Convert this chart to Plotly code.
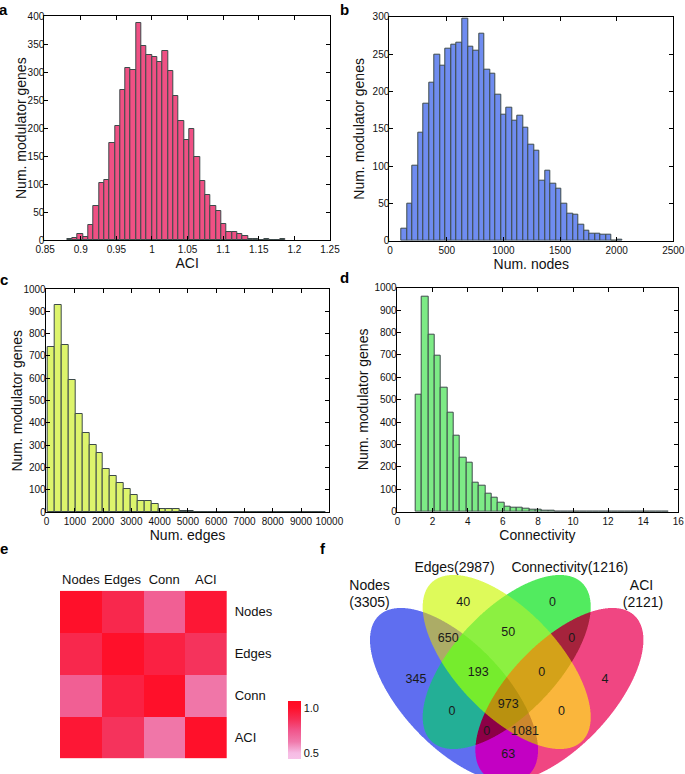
import numpy as np
import plotly.graph_objects as go

W, H = 685, 774

# ---------------- data ----------------
# a: ACI histogram
aci_bin_start = 0.8805
aci_bin_width = 0.00748
aci_counts = [1, 3, 10, 5, 27, 60, 101, 108, 173, 204, 268, 308, 304, 388, 347, 330, 327,
              318, 338, 302, 258, 212, 178, 198, 149, 106, 80, 61, 51, 29, 15, 14, 10, 8,
              2, 1, 0, 1, 0, 0, 1]
# b: number of nodes histogram
nodes_bin_start = 100
nodes_bin_width = 48.8
nodes_counts = [16, 49, 101, 144, 183, 211, 249, 234, 257, 263, 265, 297, 260, 254, 277,
                229, 223, 196, 169, 178, 161, 168, 152, 128, 121, 80, 94, 76, 70, 50,
                36, 35, 22, 14, 10, 9, 8, 8, 0, 2]
# c: number of edges histogram
edges_bin_start = 35
edges_bin_width = 246
edges_counts = [740, 928, 748, 594, 439, 355, 301, 267, 196, 164, 130, 106, 76, 52, 49,
                36, 16, 16, 14, 7, 7, 3, 3, 2, 1, 2, 3, 2, 1, 1, 2, 0, 1, 1, 0, 1, 0, 0, 0, 1]
# d: connectivity histogram
conn_bin_start = 1.04
conn_bin_width = 0.36
conn_counts = [522, 960, 790, 695, 554, 440, 339, 243, 219, 129, 116, 80, 62, 42, 21, 18,
               18, 12, 9, 7, 5, 4, 2, 2, 1, 1, 1, 0, 1, 0, 0, 0, 0, 0, 0, 0, 0, 0, 0, 1]
# e: correlation heatmap
corr_labels = ["Nodes", "Edges", "Conn", "ACI"]
corr_values = [[1.00, 0.90, 0.72, 0.97],
               [0.90, 1.00, 0.93, 0.86],
               [0.72, 0.93, 1.00, 0.64],
               [0.97, 0.86, 0.64, 1.00]]
# f: Venn diagram
set_names = ["Nodes", "Edges", "Connectivity", "ACI"]
set_sizes = [3305, 2987, 1216, 2121]
venn_regions = ["A", "B", "C", "D", "AB", "BC", "CD", "AC", "BD", "AD",
                "ABC", "BCD", "ABD", "ACD", "ABCD"]
venn_counts = [345, 40, 0, 4, 650, 50, 0, 0, 0, 63, 193, 0, 1081, 0, 973]

# ---------------- styles ----------------
FONT = "Liberation Sans, Arial, Helvetica, sans-serif"
EDGE = "#3d4a4a"
hist_colors = ["#EF5084", "#6F8CF0", "#DDF46C", "#7DEB86"]

fig = go.Figure()

hist_data = [
    (aci_counts, aci_bin_start, aci_bin_width),
    (nodes_counts, nodes_bin_start, nodes_bin_width),
    (edges_counts, edges_bin_start, edges_bin_width),
    (conn_counts, conn_bin_start, conn_bin_width),
]
for i, (counts, start, width) in enumerate(hist_data):
    sfx = "" if i == 0 else str(i + 1)
    fig.add_trace(go.Bar(
        x0=start + width / 2, dx=width, y=counts,
        marker=dict(color=hist_colors[i], line=dict(color=EDGE, width=1)),
        xaxis="x" + sfx, yaxis="y" + sfx, showlegend=False, hoverinfo="skip"))

# heatmap (colour stops given in value units, then normalised)
zlo, zhi = 0.433, 1.078
cstops = [(0.433, "rgb(247,194,232)"), (0.5, "rgb(246,188,228)"),
          (0.625, "rgb(240,122,172)"), (0.75, "rgb(241,86,140)"),
          (0.875, "rgb(246,46,86)"), (1.0, "rgb(255,16,42)"), (1.078, "rgb(255,10,34)")]
cscale = [[(v - zlo) / (zhi - zlo), c] for v, c in cstops]
fig.add_trace(go.Heatmap(
    z=corr_values, x=corr_labels, y=corr_labels, xaxis="x5", yaxis="y5",
    zmin=zlo, zmax=zhi, colorscale=cscale,
    colorbar=dict(x=288 / W, xanchor="left", y=1 - 730 / H, yanchor="middle",
                  len=58 / H, lenmode="fraction", thickness=13, outlinewidth=0,
                  xpad=0, ypad=0, tickvals=[0.5, 1.0], ticktext=["0.5", "1.0"],
                  ticks="", ticklen=0,
                  tickfont=dict(size=11, color="#111", family=FONT)),
    hoverinfo="skip"))

# Venn: rasterised ellipses with region colours
ss = 3
x_lo, x_hi, y_lo, y_hi = 345, 685, 560, 774
xs = x_lo + (np.arange((x_hi - x_lo) * ss) + 0.5) / ss
ys = y_lo + (np.arange((y_hi - y_lo) * ss) + 0.5) / ss
X, Y = np.meshgrid(xs, ys)


def inside(cx, cy, a, b, ang):
    t = np.deg2rad(ang)
    dx, dy = X - cx, Y - cy
    u = dx * np.cos(t) + dy * np.sin(t)
    v = -dx * np.sin(t) + dy * np.cos(t)
    return (u / a) ** 2 + (v / b) ** 2 <= 1.0


axis_x = 506.7
ea, eb, th = 109.3, 51.8, 46.6
mA = inside(454.0, 695.0, ea, eb, th)
mB = inside(axis_x, 662.0, ea, eb, th)
mC = inside(axis_x, 662.0, ea, eb, 180 - th)
mD = inside(2 * axis_x - 454.0, 695.0, ea, eb, 180 - th)
code = mA * 1 + mB * 2 + mC * 4 + mD * 8

region_rgb = {
    1: (95, 110, 240), 2: (222, 250, 90), 4: (82, 235, 95), 8: (240, 70, 130),
    3: (172, 172, 102), 6: (140, 240, 65), 12: (165, 35, 60), 5: (35, 175, 150),
    10: (250, 182, 60), 9: (195, 0, 195), 7: (118, 236, 45), 14: (212, 162, 25),
    11: (205, 135, 45), 13: (140, 0, 70), 15: (185, 145, 15),
}
pal = np.zeros((16, 4))
for k, (r, g, b) in region_rgb.items():
    pal[k] = (r, g, b, 1.0)
img = pal[code]
hh, ww = img.shape[0] // ss, img.shape[1] // ss
img = img.reshape(hh, ss, ww, ss, 4)
alpha = img[..., 3].mean(axis=(1, 3))
rgb = (img[..., :3] * img[..., 3:4]).sum(axis=(1, 3)) / np.maximum(
    img[..., 3].sum(axis=(1, 3)), 1e-9)[..., None]
rgba = np.concatenate([rgb, alpha[..., None] * 255], axis=-1)
rgba = np.clip(np.round(rgba), 0, 255).astype(int)

fig.add_trace(go.Image(z=rgba.tolist(), colormodel="rgba256",
                       x0=x_lo + 0.5, dx=1, y0=y_lo + 0.5, dy=1,
                       xaxis="x6", yaxis="y6", hoverinfo="skip"))

region_pos = {
    "A": (416, 680), "B": (463.3, 603.3), "C": (552.5, 603), "D": (605, 680),
    "AB": (448.3, 638.6), "BC": (508.3, 633.3), "CD": (571.7, 638.6), "AC": (452, 712),
    "BD": (561.5, 712), "AD": (508.3, 755), "ABC": (478.3, 672.8), "BCD": (541.7, 672.8),
    "ABD": (525, 731.7), "ACD": (486.7, 731.7), "ABCD": (508.3, 705),
}
fig.add_trace(go.Scatter(
    x=[region_pos[r][0] for r in venn_regions], y=[region_pos[r][1] for r in venn_regions],
    text=[str(c) for c in venn_counts], mode="text",
    textfont=dict(size=12.5, color="#1a1a1a", family=FONT),
    xaxis="x6", yaxis="y6", showlegend=False, hoverinfo="skip"))

set_label_pos = [[(369.5, 586.7), (369.5, 603.3)], [(454.5, 568.3)],
                 [(569.8, 568.3)], [(641.5, 586.7), (643, 603.3)]]
lab_x, lab_y, lab_t = [], [], []
for name, size, pos in zip(set_names, set_sizes, set_label_pos):
    if len(pos) == 2:
        texts = [name, "(%d)" % size]
    else:
        texts = ["%s(%d)" % (name, size)]
    for (px, py), t in zip(pos, texts):
        lab_x.append(px); lab_y.append(py); lab_t.append(t)
fig.add_trace(go.Scatter(
    x=lab_x, y=lab_y, text=lab_t, mode="text",
    textfont=dict(size=14, color="#111", family=FONT),
    xaxis="x6", yaxis="y6", showlegend=False, hoverinfo="skip"))

# ---------------- layout ----------------
def hax(domain, rng, dtick, title, anchor, fmt=None, is_y=False):
    span = rng[1] - rng[0]
    d = dict(domain=domain, range=[rng[0] - span * 3e-3, rng[1]], dtick=dtick,
             tick0=rng[0], anchor=anchor, automargin=False, tickangle=0,
             showline=True, linecolor="black", linewidth=1, mirror="ticks",
             ticks="inside", ticklen=4, tickcolor="black", showgrid=False,
             zeroline=False, fixedrange=True,
             tickfont=dict(size=10, color="#111", family=FONT))
    if is_y:
        d["range"] = list(rng)
        d["ticklabelstandoff"] = -3
    else:
        d["title"] = dict(text=title, font=dict(size=14, color="#111", family=FONT),
                          standoff=3)
    if fmt:
        d["tickformat"] = fmt
    return d


def fx(px):
    return px / W


def fy(py):
    return 1 - py / H


layout = dict(
    width=W, height=H, margin=dict(l=0, r=0, t=0, b=0, autoexpand=False),
    paper_bgcolor="white", plot_bgcolor="white", bargap=0,
    font=dict(family=FONT, color="#111"), showlegend=False,
    xaxis=hax([fx(44.3), fx(330)], [0.85, 1.25], 0.05, "ACI", "y"),
    yaxis=hax([fy(240), fy(16)], [0, 400], 50, "", "x", is_y=True),
    xaxis2=hax([fx(389.3), fx(673.3)], [0, 2500], 500, "Num. nodes", "y2", "d"),
    yaxis2=hax([fy(240.7), fy(16.7)], [0, 300], 50, "", "x2", is_y=True),
    xaxis3=hax([fx(45.7), fx(329.3)], [0, 10000], 1000, "Num. edges", "y3", "d"),
    yaxis3=hax([fy(512.3), fy(289)], [0, 1000], 100, "", "x3", is_y=True),
    xaxis4=hax([fx(396.7), fx(678.3)], [0, 16], 2, "Connectivity", "y4"),
    yaxis4=hax([fy(511.7), fy(287.7)], [0, 1000], 100, "", "x4", is_y=True),
    xaxis5=dict(domain=[fx(60), fx(226.7)], anchor="y5", side="top", showgrid=False,
                showline=False, zeroline=False, ticks="", fixedrange=True,
                automargin=False, tickangle=0, ticklabelstandoff=3,
                tickfont=dict(size=13, color="#111", family=FONT)),
    yaxis5=dict(domain=[fy(758.3), fy(590.7)], anchor="x5", side="right",
                autorange="reversed", showgrid=False, showline=False, zeroline=False,
                ticks="", fixedrange=True, automargin=False, ticklabelstandoff=7,
                tickfont=dict(size=13, color="#111", family=FONT)),
    xaxis6=dict(domain=[fx(x_lo), fx(x_hi)], range=[x_lo, x_hi], anchor="y6",
                visible=False, fixedrange=True, automargin=False),
    yaxis6=dict(domain=[fy(y_hi), fy(y_lo)], range=[y_hi, y_lo], anchor="x6",
                visible=False, fixedrange=True, automargin=False),
)
fig.update_layout(**layout)

# y-axis titles
for px, py in [(21, 128), (359, 128.7), (17, 400.6), (362.5, 399.7)]:
    fig.add_annotation(text="Num. modulator genes", x=fx(px), y=fy(py), xref="paper",
                       yref="paper", showarrow=False, textangle=-90,
                       xanchor="center", yanchor="middle",
                       font=dict(size=14, color="#111", family=FONT))

letters = [("a", 4, 9), ("b", 344, 9), ("c", 4, 279), ("d", 344, 277), ("e", 4, 548),
           ("f", 323, 548)]
for t, px, py in letters:
    fig.add_annotation(text="<b>%s</b>" % t, x=fx(px), y=fy(py), xref="paper",
                       yref="paper", showarrow=False, xanchor="center", yanchor="middle",
                       borderpad=0, font=dict(size=15, color="black", family=FONT))

fig.write_html("out.html", config={"displayModeBar": False},
               post_script="document.body.style.margin='0px';"
                           "document.body.style.padding='0px';")
